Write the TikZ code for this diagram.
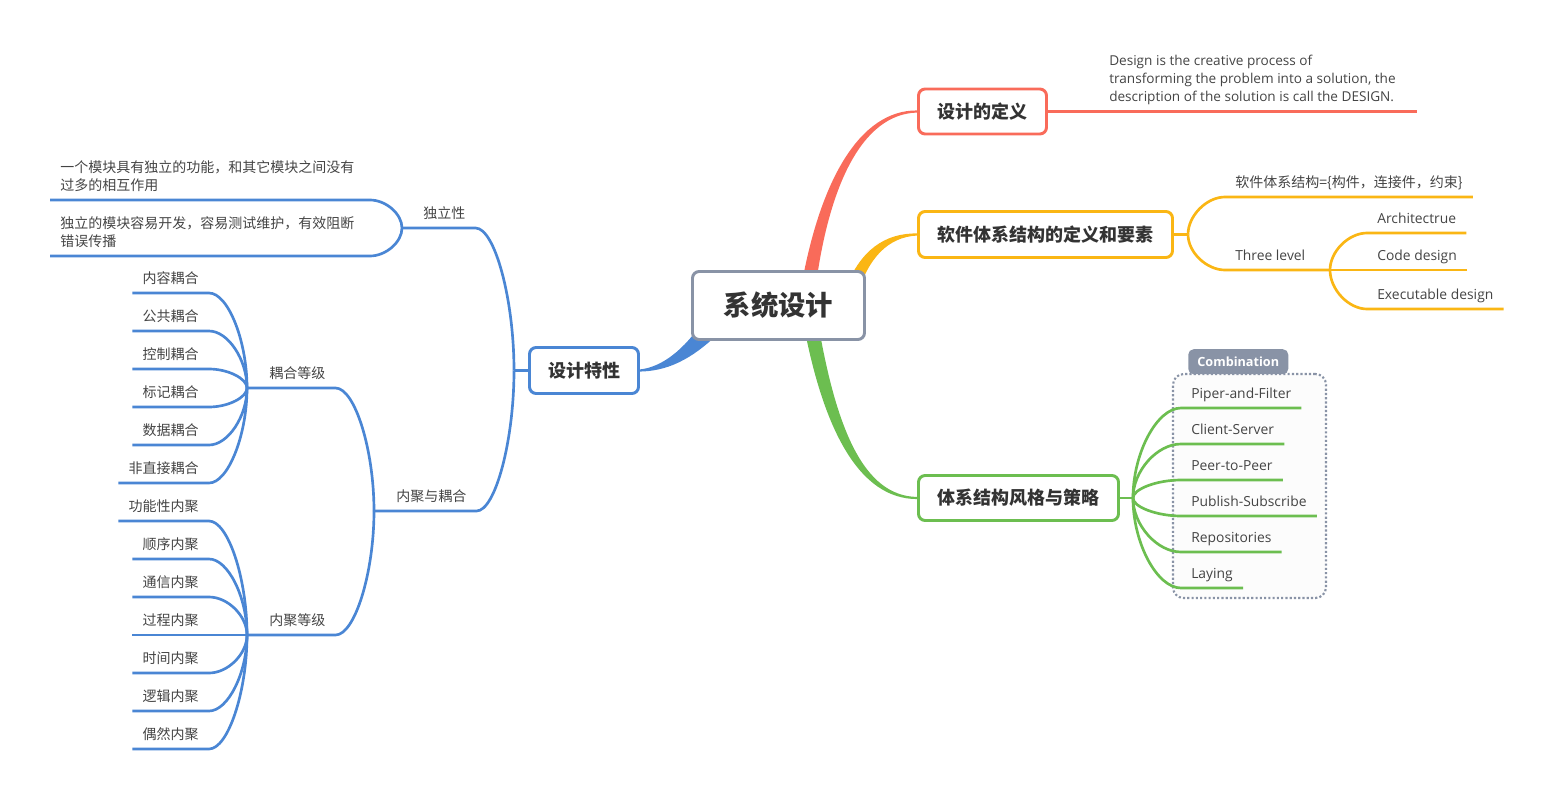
\documentclass[tikz,border=0pt]{standalone}
\usepackage{fontspec}
\setmainfont{Noto Sans CJK SC}
\newfontfamily\latinfont{Open Sans}
\usetikzlibrary{calc, backgrounds}
\definecolor{branchred}{RGB}{249,107,90}
\definecolor{branchorange}{RGB}{250,182,20}
\definecolor{branchgreen}{RGB}{108,190,80}
\definecolor{branchblue}{RGB}{74,134,212}
\definecolor{rootgray}{RGB}{137,147,166}
\definecolor{textdark}{RGB}{51,51,51}
\definecolor{textgray}{RGB}{68,68,68}

\tikzset{
  topic/.style={draw, line width=2.2pt, rounded corners=5pt, fill=white,
    text=textdark, font=\bfseries\fontsize{13.5}{16}\selectfont},
  leafR/.style={anchor=south west, inner xsep=7.5pt, inner ysep=0pt,
    text height=8pt, text depth=6.75pt, text=textgray,
    font=\fontsize{10.5}{13}\selectfont},
  leafL/.style={leafR, anchor=south east},
  leafLatin/.style={leafR, font=\latinfont\fontsize{10.4}{12}\selectfont},
  note/.style={anchor=south west, align=left, inner xsep=7.5pt, inner ysep=0pt,
    text=textgray, font=\fontsize{10.5}{13.5}\selectfont},
  link/.style={line width=2pt},
  fan/.style={to path={.. controls ($(\tikztostart)!0.5!(\tikztostart |- \tikztotarget)$)
    and ($(\tikztotarget)!0.5!(\tikztostart |- \tikztotarget)$) .. (\tikztotarget)}},
}

\begin{document}
\begin{tikzpicture}[x=0.75pt, y=-0.75pt]
  \useasboundingbox (0,0) rectangle (1554,800);

  % topics
  \node[topic, draw=rootgray, minimum width=129pt, minimum height=51pt,
        font=\bfseries\fontsize{20.5}{24}\selectfont] (root) at (778.5,305.5) {系统设计};
  \node[topic, draw=branchred, minimum width=96pt, minimum height=33.75pt]
    (def) at (982.5,111.5) {设计的定义};
  \node[topic, draw=branchorange, minimum width=190.5pt, minimum height=34.5pt]
    (elem) at (1045.5,234.5) {软件体系结构的定义和要素};
  \node[topic, draw=branchgreen, minimum width=150pt, minimum height=33.75pt]
    (style) at (1018.5,498) {体系结构风格与策略};
  \node[topic, draw=branchblue, minimum width=81.75pt, minimum height=34.5pt]
    (feat) at (584,370.5) {设计特性};

  % main branches
  \begin{scope}[on background layer]
    \fill[branchred] (799,300) .. controls (818,180) and (860,110) .. ([yshift=0.8pt]def.west)
      -- ([yshift=-0.8pt]def.west) .. controls (862,114) and (827,186) .. (814,300) -- cycle;
    \fill[branchorange] (845,290) .. controls (860,250) and (885,233) .. ([yshift=0.8pt]elem.west)
      -- ([yshift=-0.8pt]elem.west) .. controls (888,237) and (868,258) .. (857,296) -- cycle;
    \fill[branchgreen] (801,310) .. controls (822,432) and (860,499) .. ([yshift=-0.8pt]style.west)
      -- ([yshift=0.8pt]style.west) .. controls (864,496) and (835,430) .. (816,310) -- cycle;
    \fill[branchblue] (722,330) .. controls (690,362) and (665,371) .. ([yshift=-0.8pt]feat.east)
      -- ([yshift=0.8pt]feat.east) .. controls (662,367) and (684,350) .. (704,320) -- cycle;
  \end{scope}

  % definition
  \node[note, font=\latinfont\fontsize{10.2}{13.5}\selectfont] (desc) at (1099,111)
    {Design is the creative process of\\transforming the problem into a solution, the\\description of the solution is call the DESIGN.\rule[-6.75pt]{0pt}{6.75pt}};
  \coordinate (defEnd) at (1417,111.5);
  \draw[link, branchred] (def.east) -- (defEnd);

  % elements
  \coordinate (oJ) at (1188,234.5);
  \draw[link, branchorange] (elem.east) -- (oJ);
  \node[leafR] (formula) at (1225,197) {软件体系结构=\{构件，连接件，约束\}};
  \draw[link, branchorange] (oJ) to[fan] (formula.south west) -- (formula.south east);
  \node[leafLatin] (level) at (1225,270) {Three level};
  \coordinate (lvJ) at (1330,270);
  \draw[link, branchorange] (oJ) to[fan] (level.south west) -- (lvJ);
  \foreach \txt/\y [count=\i] in {Architectrue/233, Code design/270, Executable design/309} {
    \node[leafLatin] (lv\i) at (1367,\y) {\txt};
    \draw[link, branchorange] (lvJ) to[fan] (lv\i.south west) -- (lv\i.south east);
  }

  % styles
  \node[draw=rootgray, dash pattern=on 1.6pt off 1.6pt, line width=1.6pt, rounded corners=8pt,
        fill=black!1, minimum width=114.75pt, minimum height=168pt, inner sep=0pt]
    (comb) at (1249.5,486) {};
  \node[fill=rootgray, rounded corners=4pt, text=white, inner sep=0pt,
        minimum width=75pt, minimum height=18.75pt, anchor=south west,
        font=\latinfont\bfseries\fontsize{9.5}{11}\selectfont] (combTab) at (1188,374.5) {Combination};
  \coordinate (gJ) at (1133,498);
  \draw[link, branchgreen] (style.east) -- (gJ);
  \foreach \txt/\y [count=\i] in {Piper-and-Filter/408, Client-Server/444, Peer-to-Peer/480,
                                  Publish-Subscribe/516, Repositories/552, Laying/588} {
    \node[leafLatin] (st\i) at (1181,\y) {\txt};
    \draw[link, branchgreen] (gJ) to[fan] (st\i.south west) -- (st\i.south east);
  }

  % features
  \coordinate (bJ) at (514,370.5);
  \draw[link, branchblue] (feat.west) -- (bJ);
  \coordinate (iJ) at (402,228);
  \node[leafR] (indep) at (413,228) {独立性};
  \draw[link, branchblue] (bJ) to[fan] (indep.south east) -- (iJ);
  \node[note] (ind1) at (50,200)
    {一个模块具有独立的功能，和其它模块之间没有\\过多的相互作用\rule[-6.75pt]{0pt}{6.75pt}};
  \node[note] (ind2) at (50,256)
    {独立的模块容易开发，容易测试维护，有效阻断\\错误传播\rule[-6.75pt]{0pt}{6.75pt}};
  \coordinate (ind1End) at (370,200);
  \coordinate (ind2End) at (370,256);
  \draw[link, branchblue] (iJ) to[fan] (ind1End) -- (ind1.south west);
  \draw[link, branchblue] (iJ) to[fan] (ind2End) -- (ind2.south west);

  \coordinate (mJ) at (374,511);
  \node[leafR] (mix) at (386,511) {内聚与耦合};
  \draw[link, branchblue] (bJ) to[fan] (mix.south east) -- (mJ);
  \coordinate (cpJ) at (247,388);
  \node[leafR] (cpl) at (259,388) {耦合等级};
  \draw[link, branchblue] (mJ) to[fan] (cpl.south east) -- (cpJ);
  \coordinate (chJ) at (247,635);
  \node[leafR] (coh) at (259,635) {内聚等级};
  \draw[link, branchblue] (mJ) to[fan] (coh.south east) -- (chJ);

  \foreach \txt/\y [count=\i] in {内容耦合/293, 公共耦合/331, 控制耦合/369,
                                  标记耦合/407, 数据耦合/445, 非直接耦合/483} {
    \node[leafL] (cp\i) at (209,\y) {\txt};
    \draw[link, branchblue] (cpJ) to[fan] (cp\i.south east) -- (cp\i.south west);
  }
  \foreach \txt/\y [count=\i] in {功能性内聚/521, 顺序内聚/559, 通信内聚/597, 过程内聚/635,
                                  时间内聚/673, 逻辑内聚/711, 偶然内聚/749} {
    \node[leafL] (ch\i) at (209,\y) {\txt};
    \draw[link, branchblue] (chJ) to[fan] (ch\i.south east) -- (ch\i.south west);
  }
\end{tikzpicture}
\end{document}
